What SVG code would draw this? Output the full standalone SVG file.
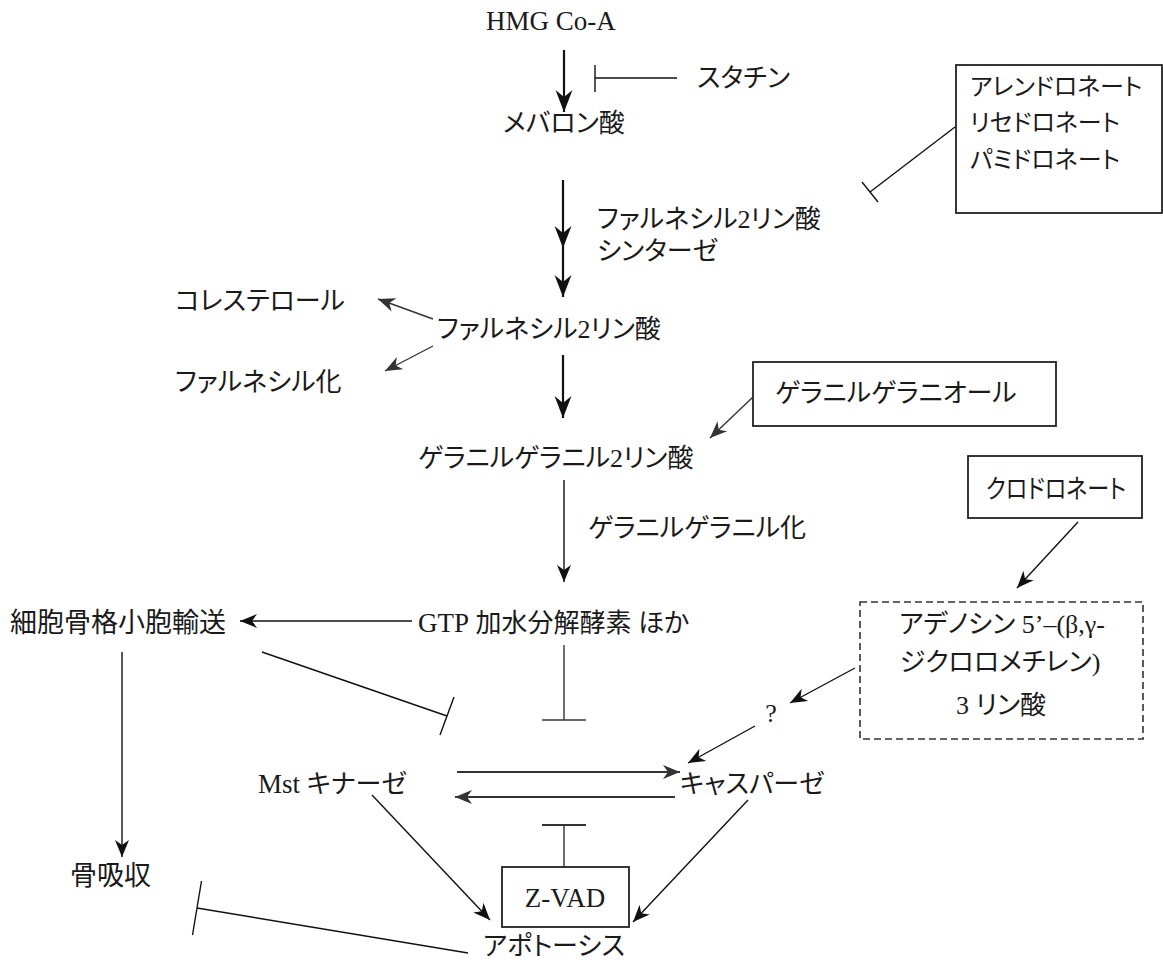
<svg xmlns="http://www.w3.org/2000/svg" width="1163" height="967" viewBox="0 0 1163 967">
<defs>
<style>
text{font-family:"Liberation Serif","Noto Sans CJK JP",serif;fill:#1a1a1a;font-feature-settings:"palt";}
.j{font-size:26px}
.k{font-size:27px}
.l{font-size:27px}
.b{font-size:24px}
.ln{stroke:#111;fill:none}
.g{stroke:#333;fill:none}
.thick{stroke-width:2.2}
.thin{stroke-width:1.4}
.box{fill:#fff;stroke:#222;stroke-width:1.8}
.dash{fill:#fff;stroke:#333;stroke-width:1.6;stroke-dasharray:7 4}
</style>
<marker id="big" markerUnits="userSpaceOnUse" viewBox="-24 -10 26 20" refX="0" refY="0" markerWidth="26" markerHeight="20" orient="auto"><path d="M0,0 L-22,-8.5 L-15,0 L-22,8.5Z" fill="#111"/></marker>
<marker id="md" markerUnits="userSpaceOnUse" viewBox="-20 -9 22 18" refX="0" refY="0" markerWidth="22" markerHeight="18" orient="auto"><path d="M0,0 L-17,-7 L-12,0 L-17,7Z" fill="#111"/></marker>
<marker id="gy" markerUnits="userSpaceOnUse" viewBox="-20 -9 22 18" refX="0" refY="0" markerWidth="22" markerHeight="18" orient="auto"><path d="M0,0 L-17,-7 L-12,0 L-17,7Z" fill="#333"/></marker>
</defs>
<rect width="1163" height="967" fill="#fff"/>

<g id="connectors">
<line class="ln thick" x1="564" y1="50" x2="564" y2="112" marker-end="url(#big)"/>
<line class="ln thin" x1="595" y1="65" x2="595" y2="92"/>
<line class="ln thin" x1="595" y1="78" x2="677" y2="78"/>
<polyline class="ln thick" points="563,180 563,248 563,297" marker-mid="url(#big)" marker-end="url(#big)"/>
<line class="ln thin" x1="955" y1="127" x2="870" y2="192"/>
<line class="ln thin" x1="862" y1="182" x2="878" y2="202"/>
<line class="g thin" x1="433" y1="319" x2="378" y2="299" marker-end="url(#gy)"/>
<line class="g thin" x1="433" y1="346" x2="385" y2="371" marker-end="url(#gy)"/>
<line class="ln thick" x1="563" y1="355" x2="563" y2="418" marker-end="url(#big)"/>
<line class="g thin" x1="753" y1="397" x2="710" y2="438" marker-end="url(#gy)"/>
<line class="ln thin" x1="564" y1="480" x2="564" y2="582" marker-end="url(#md)"/>
<line class="ln thin" x1="412" y1="621" x2="240" y2="621" marker-end="url(#md)"/>
<line class="ln thin" x1="122" y1="652" x2="122" y2="857" marker-end="url(#md)"/>
<line class="ln thin" x1="262" y1="652" x2="447" y2="716"/>
<line class="ln thin" x1="454" y1="697" x2="440" y2="735"/>
<line class="g thin" x1="564" y1="645" x2="564" y2="720"/>
<line class="g thin" x1="542" y1="720" x2="586" y2="720"/>
<line class="ln thin" x1="1078" y1="522" x2="1017" y2="588" marker-end="url(#md)"/>
<line class="ln thin" x1="855" y1="668" x2="790" y2="703" marker-end="url(#md)"/>
<line class="ln thin" x1="755" y1="726" x2="688" y2="763" marker-end="url(#md)"/>
<line class="g" stroke-width="2" x1="457" y1="772" x2="680" y2="772" marker-end="url(#gy)"/>
<line class="g" stroke-width="2" x1="675" y1="797" x2="455" y2="797" marker-end="url(#gy)"/>
<line class="g thin" x1="564" y1="867" x2="564" y2="825"/>
<line class="g" stroke-width="2" x1="542" y1="825" x2="586" y2="825"/>
<line class="ln thin" x1="372" y1="795" x2="490" y2="920" marker-end="url(#md)"/>
<line class="ln thin" x1="748" y1="800" x2="633" y2="922" marker-end="url(#md)"/>
<line class="ln thin" x1="468" y1="953" x2="197" y2="908"/>
<line class="ln thin" x1="201.5" y1="881" x2="192.5" y2="935"/>
</g>

<g id="n-hmg"><text class="l" x="486" y="30">HMG Co-A</text></g>
<g id="n-statin"><text class="j" x="697" y="87">スタチン</text></g>
<g id="n-bisphosphonates">
<rect class="box" x="956" y="65" width="206" height="148"/>
<text class="b" x="970" y="95">アレンドロネート</text>
<text class="b" x="970" y="131">リセドロネート</text>
<text class="b" x="970" y="168">パミドロネート</text>
</g>
<g id="n-mevalonate"><text class="j" x="503" y="132">メバロン酸</text></g>
<g id="n-fps"><text class="j" x="597" y="228">ファルネシル2リン酸</text><text class="j" x="597" y="260">シンターゼ</text></g>
<g id="n-cholesterol"><text class="j" x="175" y="310">コレステロール</text></g>
<g id="n-farnesylation"><text class="j" x="175" y="391">ファルネシル化</text></g>
<g id="n-fpp"><text class="j" x="437" y="338">ファルネシル2リン酸</text></g>
<g id="n-ggoh"><rect class="box" x="753" y="362" width="303" height="64"/><text class="j" x="775" y="402">ゲラニルゲラニオール</text></g>
<g id="n-ggpp"><text class="j" x="418" y="467">ゲラニルゲラニル2リン酸</text></g>
<g id="n-clodronate"><rect class="box" x="968" y="456" width="174" height="62"/><text class="j" x="986" y="498" textLength="140" lengthAdjust="spacingAndGlyphs">クロドロネート</text></g>
<g id="n-gglabel"><text class="j" x="588" y="537">ゲラニルゲラニル化</text></g>
<g id="n-cyto"><text class="k" x="10" y="632">細胞骨格小胞輸送</text></g>
<g id="n-gtp"><text class="j" x="418" y="632"><tspan class="l">GTP</tspan> 加水分解酵素 ほか</text></g>
<g id="n-appcclp">
<rect class="dash" x="860" y="602" width="283" height="137"/>
<text class="j" x="1002" y="633" text-anchor="middle">アデノシン 5’–(β,γ-</text>
<text class="j" x="1000" y="671" text-anchor="middle">ジクロロメチレン)</text>
<text class="j" x="1001" y="714" text-anchor="middle">3 リン酸</text>
</g>
<g id="n-q"><text class="j" x="771" y="722" text-anchor="middle">?</text></g>
<g id="n-mst"><text class="j" x="258" y="793"><tspan class="l">Mst</tspan> キナーゼ</text></g>
<g id="n-caspase"><text class="j" x="680" y="793">キャスパーゼ</text></g>
<g id="n-bone"><text class="k" x="70" y="885">骨吸収</text></g>
<g id="n-zvad"><rect class="box" x="502" y="867" width="127" height="60"/><text class="l" x="565" y="907" text-anchor="middle">Z-VAD</text></g>
<g id="n-apoptosis"><text class="j" x="483" y="955">アポトーシス</text></g>
</svg>
